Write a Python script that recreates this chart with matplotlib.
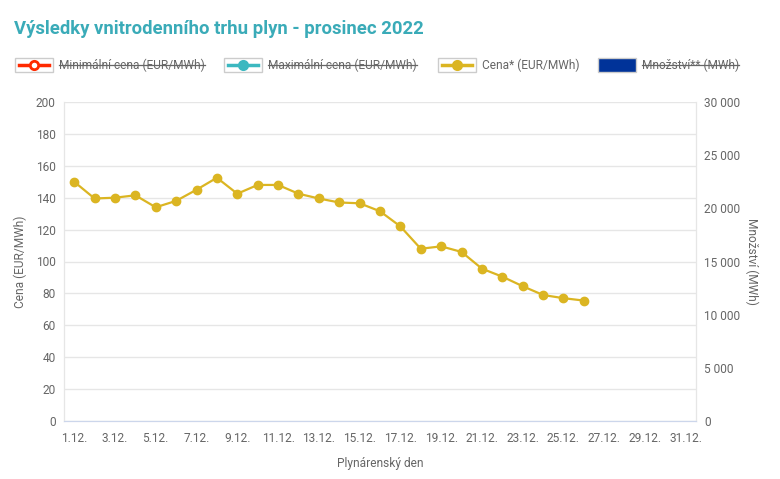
import matplotlib.pyplot as plt
from matplotlib.lines import Line2D
from matplotlib.patches import Rectangle
from matplotlib.ticker import FuncFormatter

plt.rcParams['font.family'] = ['Roboto', 'DejaVu Sans']

# data
days = [f"{d}.12." for d in range(1, 32)]
cena = [150, 139.5, 140, 141.5, 134, 138, 145, 152.5, 142.5, 148, 148, 142.5,
        139.5, 137, 136.5, 131.5, 122, 108, 109.5, 106, 95.5, 90.5, 84.5, 79,
        77, 75.5]
legend_names = ["Minimální cena (EUR/MWh)", "Maximální cena (EUR/MWh)",
                "Cena* (EUR/MWh)", "Množství** (MWh)"]
legend_hidden = [True, True, False, True]

GOLD = '#dbb522'
GRID = '#e6e6e6'
TXT = '#666666'
FS = 8.6

W, H = 780, 479
fig = plt.figure(figsize=(W / 100, H / 100), dpi=100)
ax = fig.add_axes([64 / W, 58 / H, 632 / W, 319 / H])
ax2 = ax.twinx()

x = list(range(len(cena)))
ax.plot(x, cena, color=GOLD, lw=1.6, marker='o', ms=6, zorder=3)

ax.set_xlim(-0.5, len(days) - 0.5)
ax.set_ylim(0, 200)
ax.set_yticks(range(0, 201, 20))
ax.set_xticks(range(0, len(days), 2))
ax.set_xticklabels(days[::2])
ax2.set_ylim(0, 30000)
ax2.set_yticks(range(0, 30001, 5000))
ax2.yaxis.set_major_formatter(FuncFormatter(lambda v, p: f"{int(v):,}".replace(",", " ")))

ax.grid(axis='y', color=GRID, lw=1)
ax.set_axisbelow(True)
for a in (ax, ax2):
    a.spines['top'].set_visible(False)
    a.spines['left'].set_color(GRID)
    a.spines['right'].set_color(GRID)
    a.spines['bottom'].set_color('#ccd6eb')
    a.tick_params(length=0, labelsize=FS, colors=TXT, pad=6)
ax.tick_params(axis='x', pad=8)

ax.set_ylabel("Cena (EUR/MWh)", fontsize=FS, color=TXT, va='center')
ax.yaxis.set_label_coords(-(64 - 20) / 632, 0.5)
ax2.set_ylabel("Množství (MWh)", fontsize=FS, color=TXT, rotation=270, va='center')
ax2.yaxis.set_label_coords((752 - 64) / 632, 0.5)
ax.set_xlabel("Plynárenský den", fontsize=FS, color=TXT, va='center')
ax.xaxis.set_label_coords(0.5, -(463 - 421) / 319)

fig.text(14 / W, 1 - 29 / H, "Výsledky vnitrodenního trhu plyn - prosinec 2022",
         fontsize=13.3, fontweight='bold', color='#3aabb8', va='center')

# legend drawn by hand (Highcharts style with strike-through for hidden series)
def px(xp, yp):
    return xp / W, 1 - yp / H

box_x = [15, 224, 438, 598]
colors = ['#ff2a00', '#3cb8c0', GOLD, '#003399']
ly = 65
renderer = fig.canvas.get_renderer()
for i, name in enumerate(legend_names):
    bx = box_x[i]
    if i < 3:
        fig.add_artist(Rectangle(px(bx, ly + 7), 38 / W, 14 / H, transform=fig.transFigure,
                                 facecolor='white', edgecolor='#cccccc', lw=1))
        fig.add_artist(Line2D([(bx + 4) / W, (bx + 34) / W], [1 - ly / H] * 2,
                              color=colors[i], lw=2.5))
        face = 'white' if i == 0 else colors[i]
        fig.add_artist(Line2D([(bx + 19) / W], [1 - ly / H], marker='o', ms=6,
                              color=colors[i], mfc=face, mew=2))
    else:
        fig.add_artist(Rectangle(px(bx, ly + 7), 38 / W, 14 / H, transform=fig.transFigure,
                                 facecolor=colors[i], edgecolor='#cccccc', lw=1))
    t = fig.text((bx + 44) / W, 1 - ly / H, name, fontsize=FS, color=TXT, va='center')
    if legend_hidden[i]:
        bb = t.get_window_extent(renderer)
        fig.add_artist(Line2D([bb.x0 / W, bb.x1 / W], [1 - ly / H] * 2, color=TXT, lw=0.9))

fig.savefig("out.png", dpi=100, facecolor='white')
